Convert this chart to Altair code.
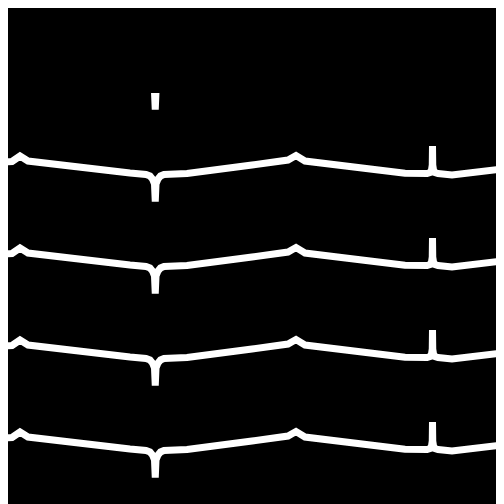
import altair as alt
import pandas as pd

# One ECG-like trace: time (ms) and amplitude (mV)
time_ms = [0, 48, 80, 112, 520, 584, 600, 610, 618, 621, 624, 632, 642, 656,
           748, 1008, 1152, 1184, 1220, 1620, 1708, 1720, 1726, 1729, 1730, 1731,
           1734, 1740, 1752, 1808, 2016]
amp_mv = [0.288, 0.313, 0.45, 0.325, 0.025, -0.013, -0.05, -0.125, -0.25, -0.688,
          -0.25, -0.125, -0.05, -0.013, 0.013, 0.225, 0.35, 0.4625, 0.325, 0.018,
          0.013, 0.038, 0.10, 0.225, 0.70, 0.225, 0.10, 0.038, 0.013, -0.025, 0.133]

# Stacked leads and their vertical offsets (mV)
leads = ["A", "B", "C", "D", "E"]
lead_offset_mv = [9.2, 6.9, 4.6, 2.3, 0.0]

rows = []
for lead, off in zip(leads, lead_offset_mv):
    for t, a in zip(time_ms, amp_mv):
        rows.append({"lead": lead, "t": t, "v": a + off})
df = pd.DataFrame(rows)

chart = alt.Chart(df).mark_line(
    color="white", strokeWidth=7, clip=True
).encode(
    x=alt.X("t:Q", scale=alt.Scale(domain=[32, 1984], nice=False, zero=False), axis=None),
    y=alt.Y("v:Q", scale=alt.Scale(domain=[-1.35, 8.925], nice=False, zero=False), axis=None),
    detail="lead:N",
    order="t:Q",
).properties(
    width=488,
    height=411,
    autosize=alt.AutoSizeParams(type="none"),
    padding={"top": 85, "left": 0, "right": 0, "bottom": 0},
    background="black",
).configure_view(stroke=None)

chart.save("out.html", embed_options={"renderer": "svg", "actions": False})
